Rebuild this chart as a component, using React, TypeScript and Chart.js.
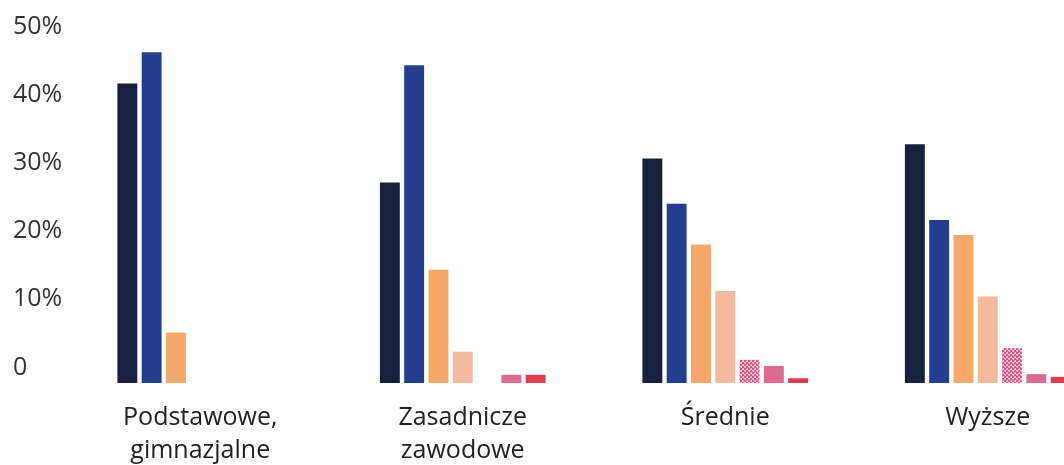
import React, { useEffect, useRef } from "react";
import { Chart, registerables } from "chart.js";

Chart.register(...registerables);

const categories: (string | string[])[] = [
  ["Podstawowe,", "gimnazjalne"],
  ["Zasadnicze", "zawodowe"],
  "Średnie",
  "Wyższe",
];

const seriesNames = ["Seria 1", "Seria 2", "Seria 3", "Seria 4", "Seria 5", "Seria 6", "Seria 7"];

const series1 = [43.9, 29.4, 32.9, 35.0];
const series2 = [48.5, 46.6, 26.3, 23.9];
const series3 = [7.4, 16.6, 20.3, 21.7];
const series4 = [null, 4.6, 13.5, 12.7];
const series5 = [null, null, 3.4, 5.1];
const series6 = [null, 1.2, 2.5, 1.3];
const series7 = [null, 1.2, 0.7, 0.9];

const yTicks = [0, 10, 20, 30, 40, 50];

const colors = ["#17203f", "#233d8f", "#f6a96b", "#f3bb9c", "PATTERN", "#dd6a91", "#e03c50"];

function makePattern(ctx: CanvasRenderingContext2D): CanvasPattern | string {
  const c = document.createElement("canvas");
  c.width = 4;
  c.height = 4;
  const p = c.getContext("2d");
  if (!p) return "#eb8aa8";
  p.fillStyle = "#f6d0dc";
  p.fillRect(0, 0, 4, 4);
  p.fillStyle = "#e2557f";
  p.fillRect(0, 0, 2, 2);
  p.fillRect(2, 2, 2, 2);
  p.fillStyle = "#ec8fad";
  p.fillRect(2, 0, 1, 1);
  p.fillRect(0, 3, 1, 1);
  return ctx.createPattern(c, "repeat") || "#eb8aa8";
}

export default function App() {
  const ref = useRef<HTMLCanvasElement | null>(null);
  useEffect(() => {
    if (!ref.current) return;
    const ctx = ref.current.getContext("2d")!;
    const pattern = makePattern(ctx);
    const all = [series1, series2, series3, series4, series5, series6, series7];
    const chart = new Chart(ctx, {
      type: "bar",
      data: {
        labels: categories,
        datasets: all.map((d, i) => ({
          label: seriesNames[i],
          data: d as any,
          backgroundColor: colors[i] === "PATTERN" ? (pattern as any) : colors[i],
          borderWidth: 0,
          categoryPercentage: 0.648,
          barPercentage: 0.82,
        })),
      },
      options: {
        responsive: false,
        animation: false,
        maintainAspectRatio: false,
        layout: { padding: { left: 13, top: 42, right: 1, bottom: 0 } },
        plugins: { legend: { display: false }, tooltip: { enabled: false } },
        scales: {
          x: {
            grid: { display: false, drawTicks: false },
            border: { display: false },
            ticks: {
              color: "#222",
              padding: 18,
              maxRotation: 0,
              autoSkip: false,
              font: { family: "'Open Sans'", size: 25, lineHeight: 1.32 },
            },
            afterFit: (s: any) => {
              s.height = 82;
            },
          },
          y: {
            min: 0,
            max: 50,
            grid: { display: false, drawTicks: false },
            border: { display: false },
            afterBuildTicks: (s: any) => {
              s.ticks = yTicks.map((v) => ({ value: v }));
            },
            ticks: {
              color: "#333",
              crossAlign: "far",
              labelOffset: -15.5,
              padding: 0,
              font: { family: "'Open Sans'", size: 25 },
              callback: (v: any) => (Number(v) === 0 ? "0" : v + "%"),
            },
            afterFit: (s: any) => {
              s.width = 56;
            },
          },
        },
      },
    });
    return () => chart.destroy();
  }, []);
  return (
    <div
      style={{
        position: "fixed",
        left: 0,
        top: 0,
        width: 1064,
        height: 465,
        overflow: "hidden",
        background: "#fff",
      }}
    >
      <canvas ref={ref} width={1120} height={465} style={{ display: "block" }} />
    </div>
  );
}
